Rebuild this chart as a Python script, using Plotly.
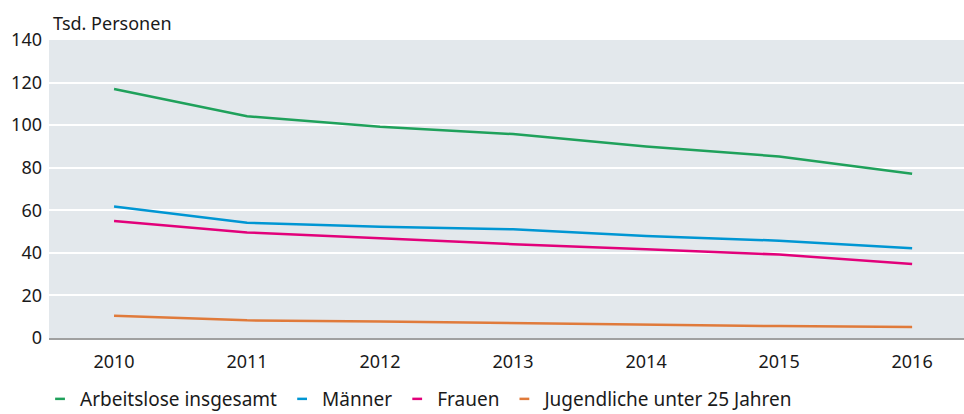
import plotly.graph_objects as go

years = [2010, 2011, 2012, 2013, 2014, 2015, 2016]
insgesamt = [117.0, 104.2, 99.2, 95.8, 90.0, 85.3, 77.2]
maenner = [61.8, 54.1, 52.3, 51.1, 47.9, 45.7, 42.2]
frauen = [55.0, 49.6, 46.9, 44.1, 41.7, 39.2, 34.8]
jugendliche = [10.5, 8.3, 7.8, 7.0, 6.1, 5.6, 5.2]

series_names = ["Arbeitslose insgesamt", "Männer", "Frauen", "Jugendliche unter 25 Jahren"]
series_values = [insgesamt, maenner, frauen, jugendliche]
colors = ["#1fa15b", "#0096d3", "#e2007a", "#e07a3a"]

y_ticks = [0, 20, 40, 60, 80, 100, 120, 140]
FONT = "Noto Sans"

fig = go.Figure()
for name, vals, col in zip(series_names, series_values, colors):
    fig.add_trace(go.Scatter(x=years, y=vals, mode="lines", name=name,
                             line=dict(color=col, width=2.5), showlegend=False))
# legend entries with short line symbols
for name, col in zip(series_names, colors):
    fig.add_trace(go.Scatter(x=[None], y=[None], mode="markers", name=name,
                             line=dict(color=col),
                             marker=dict(symbol="line-ew-open", size=7, color=col,
                                         line=dict(color=col, width=2.5)),
                             showlegend=True))

fig.update_layout(
    width=964, height=414,
    margin=dict(l=49, r=0, t=40, b=76, autoexpand=False),
    paper_bgcolor="white",
    plot_bgcolor="#e3e8ec",
    font=dict(family=FONT, size=18, color="#1a1a1a"),
    xaxis=dict(range=[2009.511, 2016.39], tickvals=years, ticktext=[str(y) for y in years],
               showgrid=False, zeroline=False, showline=True, linecolor="#a0a0a0",
               linewidth=2, ticks="", ticklabelstandoff=6, fixedrange=True, automargin=False),
    yaxis=dict(range=[0, 140], tickvals=y_ticks, showgrid=True, gridcolor="white",
               gridwidth=2, zeroline=False, showline=False, ticks="",
               ticklabelstandoff=6, fixedrange=True, automargin=False),
    legend=dict(orientation="h", xref="paper", yref="paper",
                x=-0.0098, y=-0.2685, xanchor="left", yanchor="bottom",
                font=dict(family=FONT, size=19, color="#1a1a1a"),
                itemwidth=30, tracegroupgap=0, bgcolor="rgba(0,0,0,0)"),
    annotations=[dict(text="Tsd. Personen", xref="paper", yref="paper", x=0, y=1,
                      xanchor="left", yanchor="bottom", xshift=2, yshift=3,
                      showarrow=False, font=dict(family=FONT, size=18, color="#1a1a1a"))],
    showlegend=True,
)

fig.write_html("out.html", config={"displayModeBar": False},
               post_script="document.body.style.margin='0';document.body.style.overflow='hidden';")
